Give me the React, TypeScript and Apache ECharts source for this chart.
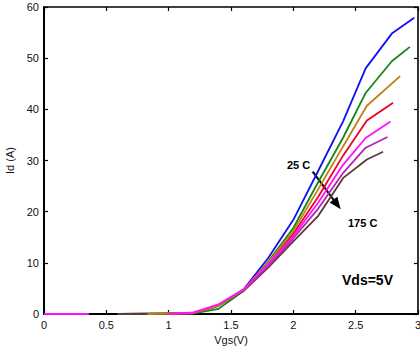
import React, { useEffect, useRef } from "react";
import * as echarts from "echarts";

// Transfer curves Id vs Vgs at Vds = 5 V, one per case temperature.
// Each point is [Vgs (V), Id (A)]; '-' breaks the trace.
const temps = ["25 C", "50 C", "75 C", "100 C", "125 C", "150 C", "175 C"];
const colors = ["#1010f0", "#12861a", "#c08012", "#f00022", "#ff10ff", "#b424b4", "#5c3838"];

const curve25: (number | string)[][] = [[1.0, 0], [1.2, 0.2], [1.4, 1.6], [1.6, 4.8], [1.8, 11.0], [2.0, 18.4], [2.2, 28.0], [2.4, 37.7], [2.58, 48.0], [2.79, 54.8], [2.97, 57.9]];
const curve50: (number | string)[][] = [[0.59, 0], [1.2, 0.1], [1.4, 1.0], [1.6, 4.5], [1.8, 10.3], [2.0, 16.8], [2.2, 25.8], [2.4, 34.5], [2.58, 43.2], [2.79, 49.4], [2.935, 52.2]];
const curve75: (number | string)[][] = [[0.83, 0], [1.2, 0.2], [1.4, 1.6], [1.6, 4.7], [1.8, 10.1], [2.0, 16.2], [2.2, 24.4], [2.4, 32.8], [2.59, 40.7], [2.857, 46.5]];
const curve100: (number | string)[][] = [[1.0, 0], [1.2, 0.2], [1.4, 1.7], [1.6, 4.7], [1.8, 9.9], [2.0, 15.7], [2.2, 22.9], [2.4, 31.0], [2.59, 37.8], [2.8, 41.3]];
const curve125: (number | string)[][] = [[0, 0], [0.36, 0], [0.37, "-"], [1.0, 0], [1.2, 0.3], [1.4, 1.9], [1.6, 4.8], [1.8, 9.7], [2.0, 15.2], [2.2, 21.8], [2.4, 29.2], [2.58, 34.4], [2.78, 37.6]];
const curve150: (number | string)[][] = [[1.0, 0], [1.2, 0.2], [1.4, 1.7], [1.6, 4.6], [1.8, 9.4], [2.0, 14.8], [2.2, 20.6], [2.4, 27.6], [2.58, 32.5], [2.756, 34.6]];
const curve175: (number | string)[][] = [[0.59, 0], [1.2, 0.2], [1.4, 1.6], [1.6, 4.5], [1.8, 9.1], [2.0, 14.2], [2.2, 19.2], [2.4, 26.6], [2.59, 30.2], [2.72, 31.7]];

const curves = [curve25, curve50, curve75, curve100, curve125, curve150, curve175];
// paint order: later traces sit on top where they overlap near the knee
const drawOrder = [0, 1, 6, 3, 5, 2, 4];

const xTicks = { min: 0, max: 3, interval: 0.5 };
const yTicks = { min: 0, max: 60, interval: 10 };

const FONT = "'Liberation Sans', Arial, Helvetica, sans-serif";

export default function App() {
  const ref = useRef<HTMLDivElement>(null);

  useEffect(() => {
    document.body.style.margin = "0";
    if (!ref.current) return;
    const chart = echarts.init(ref.current, null, { renderer: "svg" });

    const axisCommon = (width: number) => ({
      type: "value" as const,
      splitLine: { show: false },
      axisLine: { show: true, onZero: false, lineStyle: { color: "#000", width } },
      axisTick: { show: true, inside: true, length: 4, lineStyle: { color: "#000", width: 1.2 } },
    });

    chart.setOption({
      animation: false,
      backgroundColor: "#fff",
      grid: { left: 44, right: 2, top: 7, bottom: 38, containLabel: false, outerBoundsMode: "none" },
      xAxis: [
        {
          ...axisCommon(2),
          ...xTicks,
          position: "bottom",
          name: "Vgs(V)",
          nameLocation: "middle",
          nameGap: 20,
          nameTextStyle: { fontFamily: FONT, fontSize: 11, color: "#111" },
          axisLabel: { fontFamily: FONT, fontSize: 11, color: "#111", margin: 5 },
        },
        {
          ...axisCommon(1.6),
          ...xTicks,
          position: "top",
          axisLabel: { show: false },
        },
      ],
      yAxis: [
        {
          ...axisCommon(2),
          ...yTicks,
          position: "left",
          name: "Id (A)",
          nameLocation: "middle",
          nameGap: 26,
          nameTextStyle: { fontFamily: FONT, fontSize: 11, color: "#111" },
          axisLabel: { fontFamily: FONT, fontSize: 11, color: "#111", margin: 5 },
        },
        {
          ...axisCommon(1.6),
          ...yTicks,
          position: "right",
          axisLabel: { show: false },
        },
      ],
      series: drawOrder.map((i) => ({
        name: temps[i],
        type: "line",
        xAxisIndex: 0,
        yAxisIndex: 0,
        data: curves[i],
        symbol: "none",
        showSymbol: false,
        clip: false,
        connectNulls: false,
        lineStyle: { color: colors[i], width: 1.8 },
        itemStyle: { color: colors[i] },
      })),
      graphic: [
        {
          type: "text",
          left: 287,
          top: 159,
          style: { text: "25 C", fontFamily: FONT, fontSize: 11, fontWeight: "bold", fill: "#000" },
        },
        {
          type: "text",
          left: 348,
          top: 217,
          style: { text: "175 C", fontFamily: FONT, fontSize: 11, fontWeight: "bold", fill: "#000" },
        },
        {
          type: "text",
          left: 342,
          top: 273,
          style: { text: "Vds=5V", fontFamily: FONT, fontSize: 14, fontWeight: "bold", fill: "#000" },
        },
        {
          type: "line",
          shape: { x1: 312.7, y1: 171.7, x2: 334, y2: 200.4 },
          style: { stroke: "#000", lineWidth: 2 },
        },
        {
          type: "polygon",
          shape: { points: [[340.7, 209.3], [329.6, 202.6], [337.3, 196.8]] },
          style: { fill: "#000" },
        },
      ],
    });

    return () => chart.dispose();
  }, []);

  return <div ref={ref} style={{ width: 420, height: 352 }} />;
}
